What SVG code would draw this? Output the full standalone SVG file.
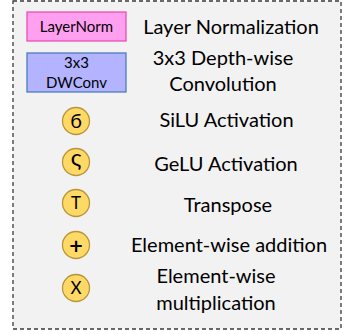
<svg xmlns="http://www.w3.org/2000/svg" width="363" height="335" viewBox="0 0 363 335">
<style>
.frame{fill:#f2f2f2;stroke:#3a3a3a;stroke-width:1.3;stroke-dasharray:4 3}
.lbl{font-family:Lato,"Liberation Sans",sans-serif;font-size:20px;fill:#000;text-anchor:middle}
.box{font-family:Lato,"Liberation Sans",sans-serif;font-size:15px;fill:#000;text-anchor:middle}
.sym{font-family:Lato,"Liberation Sans",sans-serif;font-size:17px;fill:#000;text-anchor:middle}
.op{fill:#ffd966;stroke:#b8953a;stroke-width:1.3}
</style>
<rect class="frame" x="13" y="1" width="328" height="328"/>
<g id="connectors"/>
<g id="layernorm">
<rect x="27" y="12" width="99" height="29" fill="#ff9ff0" stroke="#ec4fb3" stroke-width="1.3"/>
<text class="box" x="76.5" y="32">LayerNorm</text>
<text class="lbl" x="231" y="34">Layer Normalization</text>
</g>
<g id="dwconv">
<rect x="27" y="53" width="99" height="39" fill="#b3b3ff" stroke="#4a7ebb" stroke-width="1.3"/>
<text class="box" x="76.5" y="68">3x3</text>
<text class="box" x="76.5" y="88">DWConv</text>
<text class="lbl" x="223" y="65">3x3 Depth-wise</text>
<text class="lbl" x="223" y="91">Convolution</text>
</g>
<g id="silu">
<circle class="op" cx="76" cy="121" r="13.5"/>
<text class="sym" x="76" y="128" style="font-size:20px">б</text>
<text class="lbl" x="226.5" y="127">SiLU Activation</text>
</g>
<g id="gelu">
<circle class="op" cx="76" cy="162" r="13.5"/>
<text class="sym" x="76" y="166" style="font-size:23px">ς</text>
<text class="lbl" x="226" y="171">GeLU Activation</text>
</g>
<g id="transpose">
<circle class="op" cx="76" cy="203" r="13.5"/>
<text class="sym" x="76" y="209">T</text>
<text class="lbl" x="228" y="212">Transpose</text>
</g>
<g id="add">
<circle class="op" cx="76" cy="245" r="13.5"/>
<text class="sym" x="76" y="251.5" style="font-family:'DejaVu Sans',sans-serif;font-size:18px;font-weight:bold">+</text>
<text class="lbl" x="229" y="252">Element-wise addition</text>
</g>
<g id="mul">
<circle class="op" cx="76" cy="288" r="13.5"/>
<text class="sym" x="76" y="294">X</text>
<text class="lbl" x="216" y="283">Element-wise</text>
<text class="lbl" x="216" y="310">multiplication</text>
</g>
</svg>
